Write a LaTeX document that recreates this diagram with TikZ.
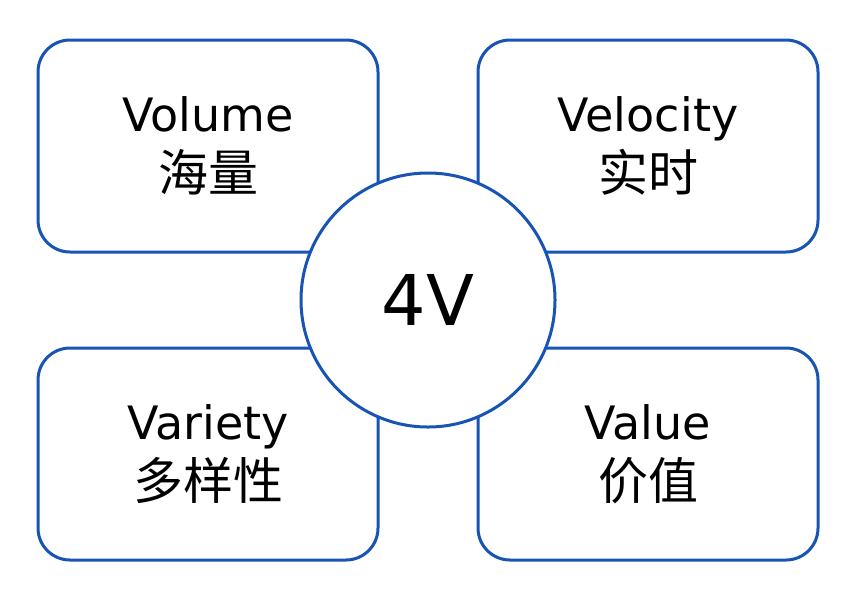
\documentclass[tikz,border=0pt]{standalone}
\usepackage{fontspec}
\setmainfont{DejaVu Sans}
\newfontfamily\cjk{Noto Sans CJK SC}
\usepackage{tikz}
\usepackage{xcolor}
\definecolor{vblue}{RGB}{24,84,180}

\newcommand{\zh}[1]{{\cjk\fontsize{50}{60}\selectfont #1}}

\tikzset{
  vbox/.style={draw=vblue, line width=3pt, rounded corners=32pt, fill=white,
    minimum width=340pt, minimum height=212pt, inner sep=0pt, align=center,
    font=\fontsize{46}{60}\selectfont},
  hub/.style={draw=vblue, line width=3pt, circle, fill=white,
    minimum size=254pt, inner sep=0pt, font=\fontsize{70}{80}\selectfont}
}

\begin{document}
\begin{tikzpicture}[x=1pt, y=-1pt]
      \useasboundingbox (0,0) rectangle (850,590);
      \node [vbox] (VO) at (208,146) {Volume\\\zh{海量}};
      \node [vbox] (VE) at (648,146) {Velocity\\\zh{实时}};
      \node [vbox] (VA) at (208,454) {Variety\\\zh{多样性}};
      \node [vbox] (VL) at (648,454) {Value\\\zh{价值}};
      \node [hub] (C) at (428,300) {4V};
\end{tikzpicture}
\end{document}
